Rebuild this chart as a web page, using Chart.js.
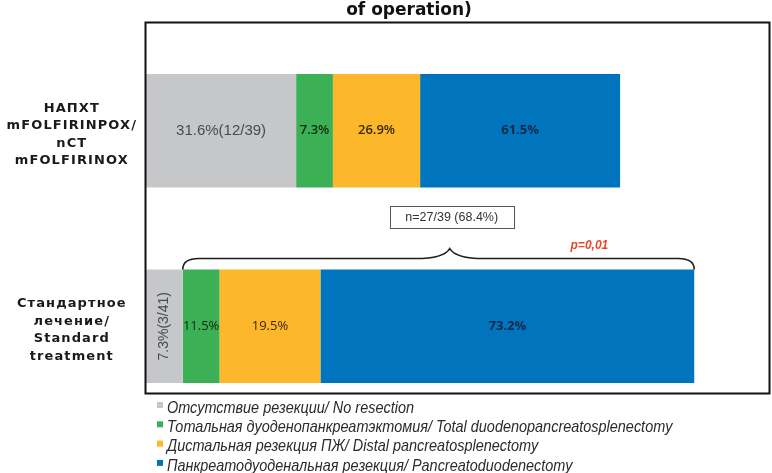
<!DOCTYPE html>
<html>
<head>
<meta charset="utf-8">
<script src="https://cdn.jsdelivr.net/npm/chart.js@4.4.1/dist/chart.umd.min.js"></script>
<style>
  html, body { margin: 0; padding: 0; background: #fff; }
</style>
</head>
<body>
<canvas id="resectionChart" width="772" height="473"></canvas>
<script>
// groups (y axis), one multi-line label each
const categories = [
    ['НАПХТ', 'mFOLFIRINPOX/', 'nCT', 'mFOLFIRINOX'],
    ['Стандартное', 'лечение/', 'Standard', 'treatment']
];
const seriesNames = [
    'Отсутствие резекции/ No resection',
    'Тотальная дуоденопанкреатэктомия/ Total duodenopancreatosplenectomy',
    'Дистальная резекция ПЖ/ Distal pancreatosplenectomy',
    'Панкреатодуоденальная резекция/ Pancreatoduodenectomy'
];
// segment lengths (share of the frame width)
const noResection = [24.1, 5.9];
const totalResection = [5.9, 5.9];
const distalResection = [14.0, 16.2];
const pdResection = [32.1, 60.0];
// texts printed in the segments
const noResectionText = ['31.6%(12/39)', '7.3%(3/41)'];
const totalResectionText = ['7.3%', '11.5%'];
const distalResectionText = ['26.9%', '19.5%'];
const pdResectionText = ['61.5%', '73.2%'];

const chartTitle = 'of operation)';
const resectedNote = 'n=27/39 (68.4%)';
const pValue = 'p=0,01';

const tickSpacing = {
    id: 'tickSpacing',
    beforeLayout(chart) { chart.ctx.letterSpacing = '1.1px'; },
    afterLayout(chart) { chart.ctx.letterSpacing = '0px'; },
    beforeDraw(chart) { chart.ctx.letterSpacing = '1.1px'; },
    beforeDatasetsDraw(chart) { chart.ctx.letterSpacing = '0px'; }
};

const barLabels = {
    id: 'barLabels',
    afterDatasetsDraw(chart) {
        const ctx = chart.ctx;
        ctx.save();
        ctx.textAlign = 'center';
        ctx.textBaseline = 'middle';
        chart.data.datasets.forEach((ds, i) => {
            chart.getDatasetMeta(i).data.forEach((bar, j) => {
                const text = ds.valueText[j];
                const cx = (bar.x + bar.base) / 2;
                const cy = bar.y;
                ctx.fillStyle = ds.labelColor;
                ctx.font = ds.labelWeight[j] + ' ' + ds.labelSize + 'px ' + ds.labelFamily;
                const w = ctx.measureText(text).width;
                if (w > bar.width + 8) {
                    ctx.save();
                    ctx.font = ds.labelWeight[j] + ' ' + (ds.labelSize - 1) + 'px ' + ds.labelFamily;
                    ctx.translate(cx, cy);
                    ctx.rotate(-Math.PI / 2);
                    ctx.fillText(text, 0, 0);
                    ctx.restore();
                } else {
                    ctx.fillText(text, cx, cy);
                }
            });
        });
        ctx.restore();
    }
};

const annotations = {
    id: 'annotations',
    afterDraw(chart) {
        const ctx = chart.ctx;
        const a = chart.chartArea;
        ctx.save();

        // title remnant
        ctx.fillStyle = '#111';
        ctx.font = 'bold 17px "DejaVu Sans"';
        ctx.textAlign = 'center';
        ctx.textBaseline = 'alphabetic';
        ctx.fillText(chartTitle, a.left + 263, 15);

        // frame
        ctx.strokeStyle = '#111';
        ctx.lineWidth = 2;
        const fx0 = a.left - 0.5, fy0 = a.top - 10.5;
        const fx1 = a.right + 0.5, fy1 = a.bottom - 30.5;
        ctx.strokeRect(fx0, fy0, fx1 - fx0, fy1 - fy0);

        // brace over the resected part of the second bar
        const green = chart.getDatasetMeta(1).data[1];
        const blue = chart.getDatasetMeta(3).data[1];
        const x0 = green.base, x1 = blue.x;
        const top = blue.y - blue.height / 2;
        const ly = top - 11, py = top - 21;
        const px = x0 + 0.522 * (x1 - x0);
        ctx.strokeStyle = '#1e1e1e';
        ctx.lineWidth = 1.6;
        ctx.beginPath();
        ctx.moveTo(x0, top);
        ctx.quadraticCurveTo(x0, ly, x0 + 16, ly);
        ctx.lineTo(px - 34, ly);
        ctx.quadraticCurveTo(px - 6, ly, px, py);
        ctx.quadraticCurveTo(px + 6, ly, px + 34, ly);
        ctx.lineTo(x1 - 16, ly);
        ctx.quadraticCurveTo(x1, ly, x1, top);
        ctx.stroke();

        // note box
        const bx = px + 2, by = py - 43;
        ctx.strokeStyle = '#555';
        ctx.lineWidth = 1;
        ctx.strokeRect(Math.round(bx - 62) + 0.5, Math.round(by) + 0.5, 124, 22);
        ctx.fillStyle = '#333';
        ctx.font = '12.5px "Liberation Sans"';
        ctx.textBaseline = 'middle';
        ctx.fillText(resectedNote, bx, by + 11.5);

        // p value
        ctx.fillStyle = '#e8452d';
        ctx.font = 'italic bold 12px "Liberation Sans"';
        ctx.fillText(pValue, x0 + 0.795 * (x1 - x0), ly - 13);

        // legend (condensed italic)
        ctx.textAlign = 'left';
        ctx.font = 'italic 17px "Liberation Sans"';
        chart.data.datasets.forEach((ds, i) => {
            const y = a.bottom - 16 + i * 19.3;
            ctx.fillStyle = ds.backgroundColor;
            ctx.fillRect(a.left + 11, y - 6, 6, 6);
            ctx.fillStyle = '#2b2b2b';
            ctx.save();
            ctx.translate(a.left + 21, y);
            ctx.scale(0.85, 1);
            ctx.fillText(ds.label, 0, 0);
            ctx.restore();
        });
        ctx.restore();
    }
};

const ctx = document.getElementById('resectionChart').getContext('2d');
const resectionChart = new Chart(ctx, {
    type: 'bar',
    data: {
        labels: categories,
        datasets: [{
            label: seriesNames[0],
            data: noResection,
            valueText: noResectionText,
            backgroundColor: '#c6c7c9',
            labelColor: '#4a4a4a',
            labelFamily: '"Liberation Sans"',
            labelSize: 15,
            labelWeight: [400, 400]
        }, {
            label: seriesNames[1],
            data: totalResection,
            valueText: totalResectionText,
            backgroundColor: '#3bb055',
            labelColor: '#0f2a14',
            labelFamily: '"Open Sans"',
            labelSize: 13,
            labelWeight: [600, 400]
        }, {
            label: seriesNames[2],
            data: distalResection,
            valueText: distalResectionText,
            backgroundColor: '#fdb72a',
            labelColor: '#3a2806',
            labelFamily: '"Open Sans"',
            labelSize: 13,
            labelWeight: [600, 400]
        }, {
            label: seriesNames[3],
            data: pdResection,
            valueText: pdResectionText,
            backgroundColor: '#0075bd',
            labelColor: '#10294a',
            labelFamily: '"Open Sans"',
            labelSize: 13,
            labelWeight: [700, 700]
        }]
    },
    options: {
        indexAxis: 'y',
        responsive: false,
        animation: false,
        devicePixelRatio: 1,
        barPercentage: 1,
        categoryPercentage: 0.58,
        layout: {
            padding: { top: 33, bottom: 49, left: 0, right: 3 }
        },
        plugins: {
            legend: { display: false },
            tooltip: { enabled: false }
        },
        scales: {
            x: {
                stacked: true,
                display: false,
                min: 0,
                max: 100
            },
            y: {
                stacked: true,
                grid: { display: false, drawTicks: false },
                border: { display: false },
                afterFit(scale) {
                    scale.width = 146;
                    scale.paddingTop = 0;
                    scale.paddingBottom = 0;
                },
                ticks: {
                    crossAlign: 'center',
                    padding: 9,
                    labelOffset: 4,
                    color: '#1a1a1a',
                    font: { family: 'DejaVu Sans', weight: 'bold', size: 13, lineHeight: 1.35 }
                }
            }
        }
    },
    plugins: [tickSpacing, barLabels, annotations]
});
</script>
</body>
</html>
